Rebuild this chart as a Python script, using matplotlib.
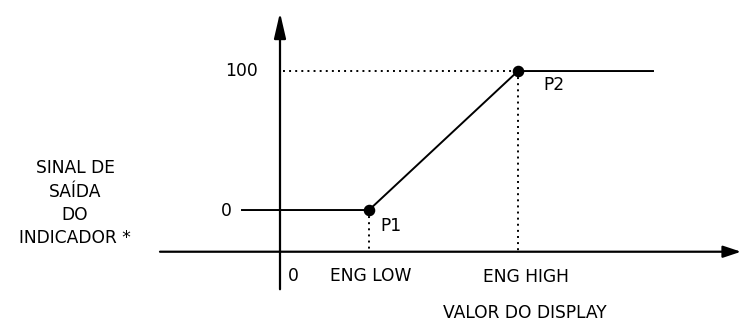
import matplotlib
matplotlib.use("Agg")
import matplotlib.pyplot as plt

plt.rcParams['font.family'] = ['DejaVu Sans']
plt.rcParams['lines.scale_dashes'] = False

# ---- data (arbitrary display units on x, % output on y) ----
x_axis_labels = ["0", "ENG LOW", "ENG HIGH"]
x_origin = 0
x_eng_low = 89
x_eng_high = 238
y_levels = [0, 100]
y_level_labels = ["0", "100"]
points_x = [x_eng_low, x_eng_high]
points_y = [0, 100]
point_labels = ["P1", "P2"]
x_axis_cross_y = -30          # level where the horizontal axis crosses
curve_start_x = -38           # start of the low plateau
curve_end_x = 373             # end of the high plateau
x_axis_range = [-120, 461]
y_axis_range = [-57, 142]
y_title_lines = ["SINAL DE", "SAÍDA", "DO", "INDICADOR *"]
x_title = "VALOR DO DISPLAY"

FS = 12.3
fig = plt.figure(figsize=(7.42, 3.24), dpi=100)
ax = fig.add_axes([0, 0, 1, 1])
ax.set_xlim(-280, 462)
ax.set_ylim(-82.0, 151.1)
ax.axis('off')

# axes with arrows
ax.annotate('', xy=(x_axis_range[1], x_axis_cross_y), xytext=(x_axis_range[0], x_axis_cross_y),
            arrowprops=dict(arrowstyle='-|>,head_length=10.8,head_width=3.6', lw=1.6,
                            color='black', shrinkA=0, shrinkB=0, mutation_scale=1))
ax.annotate('', xy=(x_origin, y_axis_range[1]), xytext=(x_origin, y_axis_range[0]),
            arrowprops=dict(arrowstyle='-|>,head_length=15.5,head_width=3.6', lw=1.6,
                            color='black', shrinkA=0, shrinkB=0, mutation_scale=1))

# transfer curve
curve_x = [curve_start_x, points_x[0], points_x[1], curve_end_x]
curve_y = [points_y[0], points_y[0], points_y[1], points_y[1]]
ax.plot(curve_x, curve_y, color='black', lw=1.4, solid_joinstyle='miter')

# dotted guides
dot = (0, (1.4, 3.0))
ax.plot([x_origin + 3, points_x[1]], [points_y[1], points_y[1]], color='black', lw=1.4, linestyle=dot)
ax.plot([points_x[1], points_x[1]], [points_y[1], x_axis_cross_y], color='black', lw=1.4, linestyle=dot)
ax.plot([points_x[0], points_x[0]], [points_y[0], x_axis_cross_y], color='black', lw=1.4, linestyle=dot)

# points
ax.plot(points_x, points_y, 'o', color='black', markersize=7.3, zorder=5)

def lab(text, xy, dx, dy, ha):
    ax.annotate(text, xy=xy, xytext=(dx, dy), textcoords='offset points',
                ha=ha, va='baseline', fontsize=FS, color='black')

# y level labels
lab(y_level_labels[0], (curve_start_x, y_levels[0]), -7.2, -4.3, 'right')
lab(y_level_labels[1], (x_origin, y_levels[1]), -15.8, -3.6, 'right')

# x labels
lab(x_axis_labels[0], (x_origin, x_axis_cross_y), 5.8, -20.9, 'left')
lab(x_axis_labels[1], (x_eng_low, x_axis_cross_y), 1.4, -20.9, 'center')
lab(x_axis_labels[2], (x_eng_high, x_axis_cross_y), 5.8, -21.6, 'center')

# point labels
lab(point_labels[0], (points_x[0], points_y[0]), 7.9, -15.1, 'left')
lab(point_labels[1], (points_x[1], points_y[1]), 18.0, -13.7, 'left')

# titles
W, H = 742, 324
fig.text(525 / W, 2 / H, x_title, ha='center', va='bottom', fontsize=FS)
for line, base in zip(y_title_lines, [173, 197, 220, 243]):
    fig.text(75 / W, 1 - base / H, line, ha='center', va='baseline', fontsize=FS)

fig.savefig('out.png', dpi=100)
